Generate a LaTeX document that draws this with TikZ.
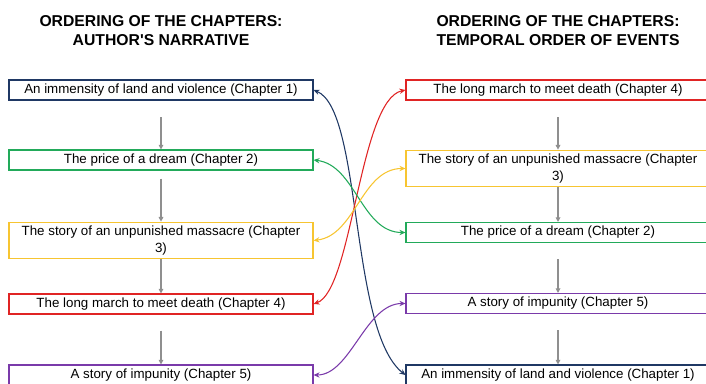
\documentclass[tikz,border=0pt]{standalone}
\usepackage{fontspec}
\setmainfont{Liberation Sans}
\usetikzlibrary{arrows.meta}

\definecolor{chnavy}{HTML}{1F3864}
\definecolor{chgreen}{HTML}{22AA5A}
\definecolor{chyellow}{HTML}{F7C531}
\definecolor{chred}{HTML}{E02424}
\definecolor{chpurple}{HTML}{7A3AAA}
\definecolor{chgray}{HTML}{8F8F8F}

\tikzset{
  heading/.style={align=center, font=\fontsize{11.8pt}{14.2pt}\selectfont\bfseries},
  chbox/.style={draw=#1, line width=0.8pt, minimum width=228pt, minimum height=15pt,
    inner sep=1pt, align=center, font=\fontsize{10pt}{13.4pt}\selectfont},
  flow/.style={draw=chgray, line width=0.8pt, -{Triangle[length=3.5pt,width=3.5pt]}},
  swap/.style={draw=#1, line width=0.8pt, {Stealth[length=4.5pt,width=4pt]}-{Stealth[length=4.5pt,width=4pt]}}
}

\begin{document}
\begin{tikzpicture}[x=0.75pt, y=-0.75pt]
\clip (0,0) rectangle (706,384);
\useasboundingbox (0,0) rectangle (706,384);

% Titles
\node[heading] (tleft) at (161,31) {ORDERING OF THE CHAPTERS:\\AUTHOR\textquotesingle S NARRATIVE};
\node[heading] (tright) at (558,31) {ORDERING OF THE CHAPTERS:\\TEMPORAL ORDER OF EVENTS};

% Author's narrative
\node[chbox=chnavy] (b1) at (161,90) {An immensity of land and violence (Chapter 1)};
\node[chbox=chgreen] (b2) at (161,160) {The price of a dream (Chapter 2)};
\node[chbox=chyellow, minimum height=27.5pt] (b3) at (161,240.5) {The story of an unpunished massacre (Chapter\\3)};
\node[chbox=chred] (b4) at (161,304) {The long march to meet death (Chapter 4)};
\node[chbox=chpurple] (b5) at (161,375) {A story of impunity (Chapter 5)};

% Temporal order
\node[chbox=chred] (r1) at (558,90) {The long march to meet death (Chapter 4)};
\node[chbox=chyellow, minimum height=27.5pt] (r2) at (558,168.5) {The story of an unpunished massacre (Chapter\\3)};
\node[chbox=chgreen] (r3) at (558,232.5) {The price of a dream (Chapter 2)};
\node[chbox=chpurple] (r4) at (558,303.5) {A story of impunity (Chapter 5)};
\node[chbox=chnavy] (r5) at (558,375) {An immensity of land and violence (Chapter 1)};

% Gray order arrows
\foreach \a/\b/\g in {b1/b2/12.7pt, b2/b3/6pt, b3/b4/0pt, b4/b5/12pt,
                      r1/r2/12.7pt, r2/r3/0pt, r3/r4/12pt, r4/r5/12pt}
  \draw[flow, shorten <=\g] (\a) -- (\b);

% Links between the two orderings
\draw[swap=chnavy] (b1.east) .. controls +(49,20) and +(-56,-44) .. (r5.west);
\draw[swap=chred] (b4.east) .. controls +(39,-14) and +(-46,10) .. (r1.west);
\draw[swap=chgreen] (b2.east) .. controls +(42,5) and +(-44,0) .. (r3.west);
\draw[swap=chyellow] (b3.east) .. controls +(42,-5) and +(-44,0) .. (r2.west);
\draw[swap=chpurple] (b5.east) .. controls +(37,0) and +(-40,0) .. (r4.west);
\end{tikzpicture}
\end{document}
